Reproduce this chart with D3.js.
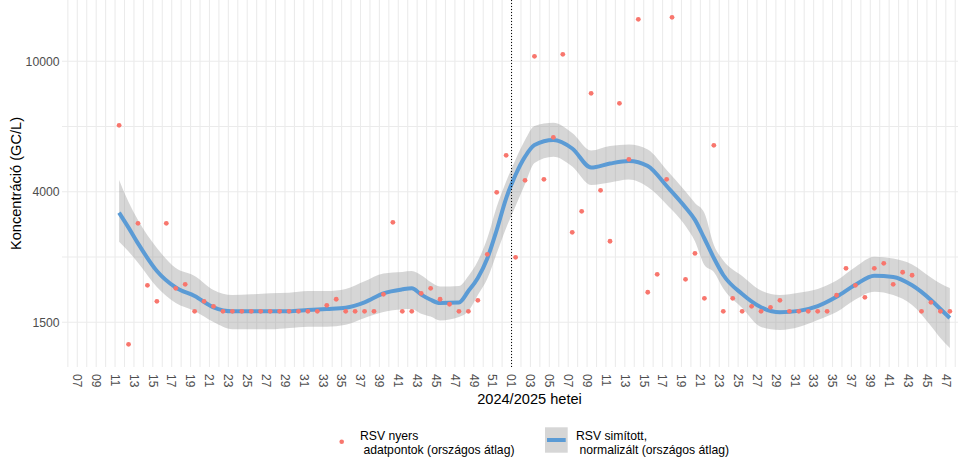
<!DOCTYPE html>
<html><head><meta charset="utf-8">
<script src="https://cdn.jsdelivr.net/npm/d3@7"></script>
<style>
html,body{margin:0;padding:0;background:#fff;overflow:hidden}
text{font-family:"Liberation Sans",Arial,sans-serif}
</style></head><body>
<svg id="chart" width="958" height="468"></svg>
<script>
// ---------- DATA ----------
const pointDates = ["2024-03-14","2024-03-21","2024-03-28","2024-04-04","2024-04-11","2024-04-18","2024-04-25","2024-05-02","2024-05-09","2024-05-16","2024-05-23","2024-05-30","2024-06-06","2024-06-13","2024-06-20","2024-06-27","2024-07-04","2024-07-11","2024-07-18","2024-07-25","2024-08-01","2024-08-08","2024-08-15","2024-08-22","2024-08-29","2024-09-05","2024-09-12","2024-09-19","2024-09-26","2024-10-03","2024-10-10","2024-10-17","2024-10-24","2024-10-31","2024-11-07","2024-11-14","2024-11-21","2024-11-28","2024-12-05","2024-12-12","2024-12-19","2024-12-26","2025-01-02","2025-01-09","2025-01-16","2025-01-23","2025-01-30","2025-02-06","2025-02-13","2025-02-20","2025-02-27","2025-03-06","2025-03-13","2025-03-20","2025-03-27","2025-04-03","2025-04-10","2025-04-17","2025-04-24","2025-04-28","2025-05-08","2025-05-15","2025-05-22","2025-05-29","2025-06-05","2025-06-12","2025-06-19","2025-06-26","2025-07-03","2025-07-10","2025-07-17","2025-07-24","2025-07-31","2025-08-07","2025-08-14","2025-08-21","2025-08-28","2025-09-04","2025-09-11","2025-09-18","2025-09-25","2025-10-02","2025-10-09","2025-10-16","2025-10-23","2025-10-30","2025-11-06","2025-11-13","2025-11-20"];
const pointValues = [6366,1357,3187,2058,1838,3187,2015,2072,1713,1838,1774,1713,1713,1713,1713,1713,1713,1713,1713,1713,1713,1713,1787,1865,1713,1713,1713,1713,1931,3210,1713,1713,1945,2015,1865,1800,1713,1713,1851,2561,3967,5151,2507,4318,10359,4349,5848,10507,2991,3469,7978,4023,2808,7433,5007,13450,1959,2224,4349,13643,2147,2579,1877,5527,1713,1877,1713,1774,1713,1762,1851,1713,1713,1713,1713,1713,1918,2320,2058,1890,2320,2403,2072,2256,2209,1713,1825,1713,1713];

const smoothDates = ["2024-03-14","2024-03-21","2024-03-28","2024-04-11","2024-04-25","2024-05-09","2024-05-23","2024-06-06","2024-06-20","2024-07-04","2024-07-18","2024-08-01","2024-08-15","2024-08-29","2024-09-12","2024-09-26","2024-10-10","2024-10-17","2024-10-24","2024-10-31","2024-11-07","2024-11-21","2024-11-28","2024-12-05","2024-12-12","2024-12-19","2024-12-26","2025-01-02","2025-01-09","2025-01-16","2025-01-30","2025-02-13","2025-02-27","2025-03-13","2025-03-27","2025-04-10","2025-04-24","2025-05-08","2025-05-15","2025-05-22","2025-05-29","2025-06-05","2025-06-19","2025-07-03","2025-07-17","2025-07-31","2025-08-14","2025-08-28","2025-09-11","2025-09-25","2025-10-09","2025-10-23","2025-11-06","2025-11-13","2025-11-20"];
const smoothFit   = [3435,3092,2767,2276,2026,1908,1762,1713,1713,1713,1713,1728,1741,1757,1825,1945,2000,2015,1927,1858,1816,1822,1976,2167,2487,3040,3803,4489,5101,5538,5738,5404,4726,4861,4948,4777,4147,3564,3266,2863,2495,2213,1935,1762,1701,1718,1778,1899,2066,2201,2183,2058,1855,1741,1634];
const smoothLower = [2799,2612,2414,2033,1816,1716,1588,1509,1509,1509,1523,1537,1537,1558,1634,1704,1737,1741,1684,1650,1605,1645,1716,1921,2156,2579,3083,3601,4206,4879,5101,4760,4177,4252,4342,4118,3640,3127,2809,2375,2261,2012,1753,1534,1502,1534,1611,1704,1862,1967,1921,1791,1545,1419,1322];
const smoothUpper = [4327,3704,3263,2678,2325,2198,1991,1921,1931,1945,1953,1976,1976,2005,2117,2237,2261,2276,2208,2106,2040,2048,2198,2443,2867,3584,4282,5000,5738,6335,6484,6028,5328,5499,5559,5366,4643,3989,3679,3428,2735,2451,2198,1984,1921,1952,2005,2129,2342,2516,2487,2384,2175,2084,2019];

const yMajorBreaks = [1584.89, 3981.07, 10000];
const yTickLabels = ["1500", "4000", "10000"];
const yMinorBreaks = [2511.89, 6309.57];
const firstLabelWeek = "2024-02-12";   // ISO 2024-W07
const lastLabelWeek = "2025-11-17";    // ISO 2025-W47
const refLineDate = "2024-12-30";      // ISO 2025-W01
const xTitle = "2024/2025 hetei";
const yTitle = "Koncentráció (GC/L)";
const legendPointLines = ["RSV nyers", " adatpontok (országos átlag)"];
const legendLineLines = ["RSV simított,", " normalizált (országos átlag)"];

// ---------- LAYOUT ----------
const P = {left: 62, right: 997, top: 0, bottom: 367};
const parse = d3.utcParse("%Y-%m-%d");
const svg = d3.select("#chart");

const x = d3.scaleUtc()
  .domain([parse(firstLabelWeek), parse(lastLabelWeek)])
  .range([77.3, 945.8]);
const y = d3.scaleLog()
  .domain([yMajorBreaks[0], yMajorBreaks[2]])
  .range([322.3, 61.3]);

const grid = svg.append("g");
// vertical weekly gridlines
const weekLines = d3.utcMonday.range(x.invert(P.left), x.invert(P.right));
grid.selectAll("line.v").data(weekLines).join("line")
  .attr("x1", d => x(d)).attr("x2", d => x(d))
  .attr("y1", P.top).attr("y2", P.bottom)
  .attr("stroke", "#ebebeb").attr("stroke-width", 1.07);
// horizontal gridlines
grid.selectAll("line.h").data(yMajorBreaks.concat(yMinorBreaks)).join("line")
  .attr("x1", P.left).attr("x2", P.right)
  .attr("y1", d => y(d)).attr("y2", d => y(d))
  .attr("stroke", "#ebebeb").attr("stroke-width", 1.07);

// ribbon + line
const sm = smoothDates.map((d, i) => ({date: parse(d), fit: smoothFit[i], lo: smoothLower[i], hi: smoothUpper[i]}));
svg.append("path").datum(sm)
  .attr("d", d3.area().x(d => x(d.date)).y0(d => y(d.lo)).y1(d => y(d.hi)).curve(d3.curveMonotoneX))
  .attr("fill", "#999999").attr("fill-opacity", 0.4);
svg.append("path").datum(sm)
  .attr("d", d3.line().x(d => x(d.date)).y(d => y(d.fit)).curve(d3.curveMonotoneX))
  .attr("fill", "none").attr("stroke", "#5b9bd5").attr("stroke-width", 4);

// reference line
svg.append("line")
  .attr("x1", x(parse(refLineDate))).attr("x2", x(parse(refLineDate)))
  .attr("y1", P.top).attr("y2", P.bottom)
  .attr("stroke", "#000").attr("stroke-width", 1).attr("stroke-dasharray", "1,2");

// points
const pts = pointDates.map((d, i) => ({date: parse(d), v: pointValues[i]}));
svg.selectAll("circle.pt").data(pts).join("circle")
  .attr("cx", d => x(d.date)).attr("cy", d => y(d.v)).attr("r", 2.4)
  .attr("fill", "#F8766D");

// y axis labels
svg.selectAll("text.yt").data(yMajorBreaks).join("text")
  .attr("x", 59.5).attr("y", d => y(d)).attr("dy", "0.35em")
  .attr("text-anchor", "end").attr("font-size", 12.2).attr("fill", "#4d4d4d")
  .text((d, i) => yTickLabels[i]);

// x axis labels (every second ISO week, rotated)
const xTicks = d3.utcMonday.range(parse(firstLabelWeek), d3.utcDay.offset(parse(lastLabelWeek), 1), 2);
const fmt = d3.utcFormat("%V");
svg.selectAll("text.xt").data(xTicks).join("text")
  .attr("transform", d => `translate(${x(d)},374) rotate(90)`)
  .attr("dy", "0.35em").attr("text-anchor", "start")
  .attr("font-size", 12).attr("fill", "#4d4d4d")
  .text(d => fmt(d));

// axis titles
svg.append("text").attr("x", (P.left + P.right) / 2).attr("y", 404)
  .attr("text-anchor", "middle").attr("font-size", 14.6).attr("fill", "#000").text(xTitle);
svg.append("text").attr("transform", `translate(21,${(P.top + P.bottom) / 2}) rotate(-90)`)
  .attr("text-anchor", "middle").attr("font-size", 14.6).attr("fill", "#000").text(yTitle);

// legend
const lg = svg.append("g");
lg.append("circle").attr("cx", 341.7).attr("cy", 441.7).attr("r", 2.3).attr("fill", "#F8766D");
legendPointLines.forEach((t, i) => lg.append("text").attr("x", 360).attr("y", 440 + i * 13.5)
  .attr("font-size", 12.2).attr("fill", "#000").style("white-space", "pre").text(t));
lg.append("rect").attr("x", 545).attr("y", 427.3).attr("width", 22.7).attr("height", 25.4)
  .attr("fill", "#999999").attr("fill-opacity", 0.4);
lg.append("line").attr("x1", 547).attr("x2", 565.7).attr("y1", 440).attr("y2", 440)
  .attr("stroke", "#5b9bd5").attr("stroke-width", 4);
legendLineLines.forEach((t, i) => lg.append("text").attr("x", 576).attr("y", 440 + i * 13.5)
  .attr("font-size", 12.2).attr("fill", "#000").style("white-space", "pre").text(t));
</script>
</body></html>
